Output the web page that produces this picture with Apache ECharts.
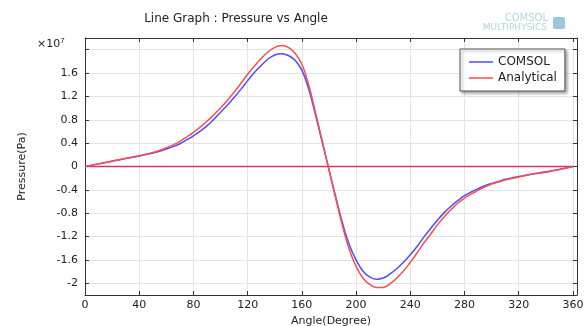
<!DOCTYPE html>
<html>
<head>
<meta charset="utf-8">
<script src="https://cdn.jsdelivr.net/npm/echarts@6/dist/echarts.min.js"></script>
<style>
  html, body { margin: 0; padding: 0; background: #fff; }
  #chart { width: 585px; height: 326px; }
</style>
</head>
<body>
<div id="chart"></div>
<script>
// angle in degrees (every 5), pressure in units of 1e7 Pa
const angles = [];
for (let a = 0; a <= 360; a += 5) angles.push(a);
const comsol = [0, 0.022, 0.045, 0.067, 0.09, 0.112, 0.135, 0.157, 0.18, 0.204, 0.23, 0.262, 0.30, 0.34, 0.39, 0.455, 0.525, 0.605, 0.695, 0.805,
  0.93, 1.05, 1.18, 1.32, 1.47, 1.61, 1.73, 1.84, 1.91, 1.93, 1.90, 1.82, 1.65, 1.33, 0.89, 0.42,
  -0.05, -0.52, -0.97, -1.34, -1.60, -1.79, -1.89, -1.93, -1.91, -1.84, -1.75, -1.64, -1.51, -1.37, -1.21, -1.06,
  -0.92, -0.79, -0.68, -0.585, -0.50, -0.435, -0.38, -0.33, -0.29, -0.255, -0.22, -0.195, -0.17, -0.15, -0.13, -0.11, -0.09, -0.07, -0.05, -0.025, 0];
const analytical = [0, 0.022, 0.045, 0.07, 0.095, 0.117, 0.14, 0.162, 0.185, 0.21, 0.24, 0.275, 0.32, 0.37, 0.43, 0.505, 0.585, 0.675, 0.775, 0.885,
  1.0, 1.13, 1.27, 1.42, 1.58, 1.72, 1.85, 1.96, 2.04, 2.07, 2.04, 1.94, 1.75, 1.40, 0.93, 0.44,
  -0.06, -0.55, -1.02, -1.42, -1.71, -1.91, -2.02, -2.07, -2.07, -2.01, -1.91, -1.79, -1.64, -1.48, -1.31, -1.16,
  -1.0, -0.86, -0.74, -0.63, -0.54, -0.47, -0.41, -0.35, -0.30, -0.265, -0.23, -0.205, -0.18, -0.155, -0.13, -0.115, -0.10, -0.075, -0.05, -0.025, 0];
const zeroLine = [[0, 0], [360, 0]];
const xTicks = [0, 40, 80, 120, 160, 200, 240, 280, 320, 360];
const yTicks = [-2, -1.6, -1.2, -0.8, -0.4, 0, 0.4, 0.8, 1.2, 1.6, 2];
const yLabels = [-2, -1.6, -1.2, -0.8, -0.4, 0, 0.4, 0.8, 1.2, 1.6];

const chart = echarts.init(document.getElementById('chart'));
const font = 'DejaVu Sans';
const axisColor = '#333';

const option = {
  animation: false,
  textStyle: { fontFamily: font },
  title: {
    text: 'Line Graph : Pressure vs Angle',
    left: 231, top: 8, textAlign: 'center',
    textStyle: { fontSize: 12, fontWeight: 'normal', color: '#222', fontFamily: font }
  },
  legend: {
    data: ['COMSOL', 'Analytical'],
    orient: 'vertical',
    left: 460, top: 49,
    padding: [7, 8, 7, 9],
    itemGap: 4,
    itemWidth: 24, itemHeight: 1.5,
    icon: 'rect',
    backgroundColor: '#fff',
    borderColor: '#555', borderWidth: 1,
    shadowColor: 'rgba(0,0,0,0.35)', shadowBlur: 3, shadowOffsetX: 2, shadowOffsetY: 2,
    textStyle: { fontSize: 12, color: '#222', fontFamily: font }
  },
  grid: { left: 85, right: 8, top: 38, bottom: 31, outerBoundsMode: 'none' },
  xAxis: [{
    type: 'value', min: 0, max: 363, interval: 10,
    name: 'Angle(Degree)', nameLocation: 'middle', nameGap: 18,
    nameTextStyle: { fontSize: 11, color: '#222', fontFamily: font },
    axisLine: { show: true, onZero: false, lineStyle: { color: axisColor } },
    axisTick: { show: true, inside: true, length: 4, customValues: xTicks, lineStyle: { color: axisColor } },
    axisLabel: { customValues: xTicks, fontSize: 11, color: '#222', margin: 5 },
    splitLine: { show: true, lineStyle: { color: '#e4e4e4', width: 1 } }
  }, {
    type: 'value', position: 'top', min: 0, max: 363,
    axisLine: { show: true, onZero: false, lineStyle: { color: axisColor } },
    axisTick: { show: true, inside: true, length: 4, customValues: xTicks, lineStyle: { color: axisColor } },
    axisLabel: { show: false },
    splitLine: { show: false }
  }],
  yAxis: [{
    type: 'value', min: -2.2, max: 2.2, interval: 0.2,
    name: 'Pressure(Pa)', nameLocation: 'middle', nameGap: 57,
    nameTextStyle: { fontSize: 11, color: '#222', fontFamily: font },
    axisLine: { show: true, onZero: false, lineStyle: { color: axisColor } },
    axisTick: { show: true, inside: true, length: 4, customValues: yTicks, lineStyle: { color: axisColor } },
    axisLabel: { customValues: yLabels, fontSize: 11, color: '#222', margin: 7 },
    splitLine: { show: true, lineStyle: { color: '#e4e4e4', width: 1 } }
  }, {
    type: 'value', position: 'right', min: -2.2, max: 2.2,
    axisLine: { show: true, onZero: false, lineStyle: { color: axisColor } },
    axisTick: { show: true, inside: true, length: 4, customValues: yTicks, lineStyle: { color: axisColor } },
    axisLabel: { show: false },
    splitLine: { show: false }
  }],
  graphic: [
    {
      type: 'text', left: 37, top: 37,
      style: {
        text: '×10{s|7}', fill: '#222', font: '11px DejaVu Sans',
        rich: { s: { fontSize: 8, verticalAlign: 'top', padding: [0, 0, 7, 0] } }
      }
    },
    {
      type: 'text', right: 37, top: 13,
      style: { text: 'COMSOL', fill: '#b4d4e6', font: '10px DejaVu Sans', textAlign: 'right' }
    },
    {
      type: 'text', right: 38, top: 23,
      style: { text: 'MULTIPHYSICS', fill: '#b4d4e6', font: '9px DejaVu Sans', textAlign: 'right' }
    },
    {
      type: 'rect', right: 20, top: 17,
      shape: { width: 12, height: 12, r: 2 },
      style: { fill: '#9cc6de' }
    }
  ],
  series: [
    {
      name: 'zero', type: 'line', data: zeroLine, symbol: 'none', silent: true,
      lineStyle: { color: '#d2386a', width: 1.3 }
    },
    {
      name: 'COMSOL', type: 'line', smooth: 0.4, symbol: 'none',
      data: angles.map((a, i) => [a, comsol[i]]),
      lineStyle: { color: '#4d4dff', width: 1.5 },
      itemStyle: { color: '#4d4dff' }
    },
    {
      name: 'Analytical', type: 'line', smooth: 0.4, symbol: 'none',
      data: angles.map((a, i) => [a, analytical[i]]),
      lineStyle: { color: '#ff4d4d', width: 1.5 },
      itemStyle: { color: '#ff4d4d' }
    }
  ]
};

chart.setOption(option);
</script>
</body>
</html>
